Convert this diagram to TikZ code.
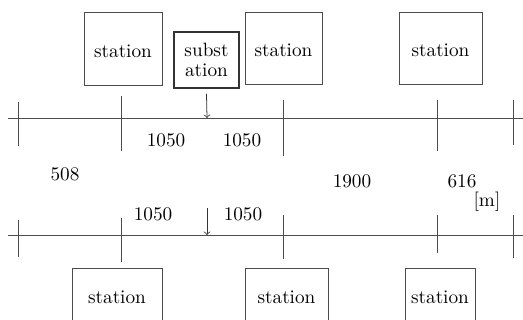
\documentclass[tikz,border=0pt]{standalone}
\usetikzlibrary{positioning}
\tikzset{
  station/.style={draw=black!70, inner sep=0pt, minimum height=37.4pt},
  substation/.style={draw=black!80, thick, inner sep=0pt, align=center},
  dist/.style={inner sep=0pt},
  rail/.style={draw=black!70},
}
\begin{document}
\begin{tikzpicture}[x=0.52pt,y=-0.52pt]
  \clip (0,0) rectangle (523,320);

  % upper line
  \begin{scope}[every node/.style={station, text height=9.2pt}]
    \node[minimum width=40.6pt, minimum height=38pt] (st1) at (123,48.5) {station};
    \node[minimum width=40pt] (st2) at (283.5,48) {station};
    \node[minimum width=43.2pt] (st3) at (440.5,48) {station};
  \end{scope}
  \node[substation, minimum width=33.8pt, minimum height=29.1pt] (sub) at (206.5,60)
    {subst\\[-1.6pt]ation};

  \coordinate (tl) at (8,118);
  \coordinate (tr) at (523,118);
  \draw[rail] (tl) -- (tr);
  \foreach \x/\a/\b in {18/102/146, 121/96/151, 283/100/156, 437/100/151, 513/100/145}
    \draw[rail] (\x,\a) -- (\x,\b);

  \coordinate (ta) at (207,118);
  \draw[->, black!80] ([yshift=-2.6pt]sub.south) -- (ta);

  \begin{scope}[every node/.style={dist}]
    \node (tda) at (166,140) {1050};
    \node (tdb) at (242,140) {1050};
  \end{scope}

  % distances
  \begin{scope}[every node/.style={dist}]
    \node (d508)  at (65,174)  {508};
    \node (d1900) at (352,181) {1900};
    \node (d616)  at (462,181) {616};
    \node (unit)  at (487,202) {[m]};
    \node (bda)   at (153,214) {1050};
    \node (bdb)   at (243,214) {1050};
  \end{scope}

  % lower line
  \coordinate (bl) at (8,235);
  \coordinate (br) at (523,235);
  \draw[rail] (bl) -- (br);
  \foreach \x/\a/\b in {18/220/257, 121/218/262, 283/215/259, 437/215/253, 513/215/258}
    \draw[rail] (\x,\a) -- (\x,\b);

  \coordinate (bt) at (207,208);
  \coordinate (ba) at (207,235);
  \draw[->, black!80] (bt) -- (ba);

  \begin{scope}[every node/.style={station, minimum height=32.2pt, text depth=2pt}]
    \node[minimum width=46.8pt] (sb1) at (117,299) {station};
    \node[minimum width=43.2pt] (sb2) at (286.5,299) {station};
    \node[minimum width=36.4pt] (sb3) at (440,299) {station};
  \end{scope}

\end{tikzpicture}
\end{document}
